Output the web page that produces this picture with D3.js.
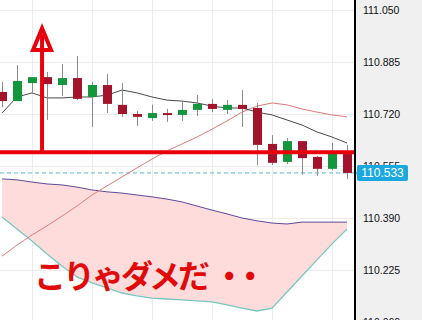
<!DOCTYPE html>
<html><head><meta charset="utf-8">
<script src="https://cdn.jsdelivr.net/npm/d3@7"></script>
<style>html,body{margin:0;padding:0;background:#fff;}svg{display:block;}</style>
</head><body>
<svg id="c" width="422" height="320"></svg>
<script>
// ---- data ----
const categories = d3.range(24);
const opens  = [110.790,110.761,110.818,110.837,110.812,110.834,110.774,110.812,110.749,110.720,110.707,110.723,110.717,110.733,110.752,110.733,110.749,110.739,110.625,110.568,110.634,110.584,110.546,110.593];
const highs  = [110.822,110.875,110.837,110.853,110.879,110.904,110.822,110.847,110.818,110.730,110.749,110.736,110.761,110.780,110.768,110.764,110.796,110.755,110.653,110.644,110.634,110.587,110.628,110.622];
const lows   = [110.742,110.761,110.787,110.701,110.777,110.764,110.679,110.723,110.711,110.682,110.698,110.695,110.698,110.714,110.726,110.720,110.679,110.558,110.558,110.561,110.527,110.524,110.542,110.514];
const closes = [110.761,110.825,110.837,110.815,110.834,110.768,110.812,110.752,110.720,110.711,110.723,110.717,110.733,110.752,110.736,110.749,110.736,110.622,110.565,110.634,110.580,110.546,110.593,110.533];
const maShort = [110.723,110.774,110.787,110.771,110.771,110.774,110.774,110.780,110.796,110.787,110.774,110.764,110.761,110.755,110.745,110.739,110.739,110.726,110.717,110.701,110.685,110.663,110.647,110.628];
const maLong  = [110.269,110.304,110.336,110.365,110.396,110.428,110.463,110.492,110.520,110.549,110.577,110.603,110.625,110.647,110.672,110.698,110.726,110.745,110.755,110.749,110.736,110.726,110.717,110.711];
const bandUpper = [110.514,110.511,110.504,110.498,110.495,110.488,110.479,110.473,110.469,110.463,110.457,110.450,110.441,110.428,110.415,110.403,110.390,110.381,110.374,110.371,110.377,110.377,110.377,110.377];
const bandLower = [110.393,110.355,110.317,110.276,110.238,110.203,110.184,110.168,110.152,110.143,110.136,110.133,110.130,110.127,110.124,110.114,110.104,110.095,110.104,110.155,110.206,110.257,110.308,110.355];
const tickValues = [111.050,110.885,110.720,110.555,110.390,110.225,110.060];
const tickLabels = ["111.050","110.885","110.720","110.555","110.390","110.225","110.060"];
const gridIndex = [2,6,10,14,18,22];
const lastPrice = 110.533;
const lastPriceLabel = "110.533";
const signalLevel = 110.599;
const signalIndex = 2.67;
const arrowTop = 110.992;
const arrowBase = 110.923;
const arrowHalfWidth = 0.6;
const caption = "こりゃダメだ・・";

// ---- layout ----
const W = 422, H = 320, plotR = 355;
const svg = d3.select("#c");
const x = d3.scaleLinear().domain([-2/15, 353/15]).range([0, plotR]);
const y = d3.scaleLinear().domain([110.06, 111.05]).range([322, 10]);

svg.append("defs").append("clipPath").attr("id","clip")
  .append("rect").attr("x",0).attr("y",0).attr("width",plotR).attr("height",H);

const plot = svg.append("g").attr("clip-path","url(#clip)");
plot.append("rect").attr("width",plotR).attr("height",H).attr("fill","#fff");

// grid
plot.selectAll(".gy").data(tickValues).join("line")
  .attr("x1",0).attr("x2",plotR).attr("y1",d=>Math.round(y(d))+0.5).attr("y2",d=>Math.round(y(d))+0.5)
  .attr("stroke","#ececec");
plot.selectAll(".gx").data(gridIndex).join("line")
  .attr("x1",d=>Math.round(x(d))+0.5).attr("x2",d=>Math.round(x(d))+0.5).attr("y1",0).attr("y2",H)
  .attr("stroke","#ececec");

// band
const area = d3.area().x((d,i)=>x(i)).y0((d,i)=>y(bandLower[i])).y1((d,i)=>y(bandUpper[i]));
plot.append("path").datum(categories).attr("d",area).attr("fill","#ffdcdc");
const line = arr => d3.line().x((d,i)=>x(i)).y(d=>y(d))(arr);
plot.append("path").attr("d",line(bandUpper)).attr("fill","none").attr("stroke","#5e4a99").attr("stroke-width",1);
plot.append("path").attr("d",line(bandLower)).attr("fill","none").attr("stroke","#79c6bf").attr("stroke-width",1.3);

// last price dashed line
plot.append("line").attr("x1",0).attr("x2",plotR).attr("y1",y(lastPrice)).attr("y2",y(lastPrice))
  .attr("stroke","#5bb5cf").attr("stroke-width",1).attr("stroke-dasharray","4,3");

// moving averages
plot.append("path").attr("d",line(maLong)).attr("fill","none").attr("stroke","#e07a7a").attr("stroke-width",1);
plot.append("path").attr("d",line(maShort)).attr("fill","none").attr("stroke","#4a4a4a").attr("stroke-width",1);

// candles
const bw = 9;
const cg = plot.selectAll(".candle").data(categories).join("g");
cg.append("line")
  .attr("x1",i=>Math.round(x(i))+0.5).attr("x2",i=>Math.round(x(i))+0.5)
  .attr("y1",i=>y(highs[i])).attr("y2",i=>y(lows[i]))
  .attr("stroke","#8a8a8a").attr("stroke-width",1);
cg.append("rect")
  .attr("x",i=>Math.round(x(i))+0.5-bw/2)
  .attr("width",bw)
  .attr("y",i=>y(Math.max(opens[i],closes[i])))
  .attr("height",i=>Math.max(2, Math.abs(y(opens[i])-y(closes[i]))))
  .attr("fill",i=>closes[i]>=opens[i] ? "#14963c" : "#a3142c");

// red annotation
const red = "#e8000b";
plot.append("line").attr("x1",0).attr("x2",plotR).attr("y1",y(signalLevel)).attr("y2",y(signalLevel))
  .attr("stroke",red).attr("stroke-width",4);
const tri = [[x(signalIndex), y(arrowTop)],[x(signalIndex-arrowHalfWidth), y(arrowBase)],[x(signalIndex+arrowHalfWidth), y(arrowBase)]];
plot.append("path").attr("d","M"+tri.map(p=>p.join(",")).join("L")+"Z")
  .attr("fill","#fff").attr("stroke",red).attr("stroke-width",4).attr("stroke-linejoin","miter");
plot.append("line").attr("x1",x(signalIndex)).attr("x2",x(signalIndex))
  .attr("y1",y(signalLevel)).attr("y2",y(arrowTop)+6)
  .attr("stroke",red).attr("stroke-width",4);

// caption
const chars = Array.from(caption);
const dxs = chars.map((c,i)=> i===6 ? 6 : (i===7 ? -8 : 0));
const cap = svg.append("text").attr("x",34).attr("y",288)
  .attr("font-family","'Noto Sans CJK JP', sans-serif").attr("font-weight",700)
  .attr("font-size",32).attr("letter-spacing",-3).attr("fill","#e00a0a");
cap.selectAll("tspan").data(chars).join("tspan").attr("dx",(d,i)=>dxs[i]).text(d=>d);

// axis panel
svg.append("rect").attr("x",plotR).attr("y",0).attr("width",W-plotR).attr("height",H).attr("fill","#f0f0f0");
svg.append("line").attr("x1",plotR).attr("x2",plotR).attr("y1",0).attr("y2",H).attr("stroke","#000").attr("stroke-width",2);
svg.selectAll(".tl").data(tickValues).join("text")
  .attr("x",363).attr("y",d=>y(d)+4)
  .attr("font-family","'Liberation Sans', Arial, sans-serif").attr("font-size",10.5).attr("fill","#111")
  .text((d,i)=>tickLabels[i]);

// price tag
const py = y(lastPrice);
svg.append("path").attr("d",`M${plotR+1},${py} L${plotR+4},${py-5} L${plotR+4},${py+5} Z`).attr("fill","#1ba8de");
svg.append("rect").attr("x",plotR+2).attr("y",py-8).attr("width",51).attr("height",16).attr("rx",2).attr("fill","#1ba8de");
svg.append("text").attr("x",plotR+2+25.5).attr("y",py+4.5).attr("text-anchor","middle")
  .attr("font-family","'Liberation Sans', Arial, sans-serif").attr("font-size",12).attr("fill","#fff").text(lastPriceLabel);
</script>
</body></html>
